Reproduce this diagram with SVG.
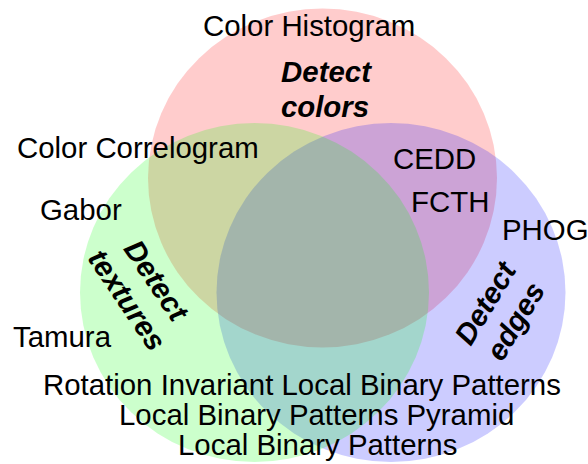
<svg xmlns="http://www.w3.org/2000/svg" width="588" height="464" viewBox="0 0 588 464">
  <style>
    .set { fill-opacity: 0.2; stroke: none; }
    text { font-family: "Liberation Sans", Arial, sans-serif; font-size: 29.4px; fill: #000; }
    .title { font-weight: bold; font-style: italic; text-anchor: middle; }
  </style>
  <rect width="588" height="464" fill="#ffffff"/>
  <g id="colors">
    <ellipse class="set" cx="322.5" cy="178" rx="174.5" ry="169.5" fill="#ff0000"/>
  </g>
  <g id="edges">
    <ellipse class="set" cx="391" cy="292.5" rx="174.5" ry="169.5" fill="#0000ff"/>
  </g>
  <g id="textures">
    <ellipse class="set" cx="254.5" cy="292.5" rx="174.5" ry="169.5" fill="#00ff00"/>
  </g>
  <g id="labels">
    <text x="203" y="36">Color Histogram</text>
    <text class="title"><tspan x="326" y="82">Detect</tspan><tspan x="325" y="117">colors</tspan></text>
    <text x="17" y="158">Color Correlogram</text>
    <text x="40" y="220">Gabor</text>
    <text x="13" y="347">Tamura</text>
    <text x="393" y="169">CEDD</text>
    <text x="411" y="212">FCTH</text>
    <text x="502" y="240">PHOG</text>
    <text class="title" transform="translate(142,290) rotate(56)"><tspan x="0" y="-7">Detect</tspan><tspan x="0" y="28">textures</tspan></text>
    <text class="title" transform="translate(500,312) rotate(-59)"><tspan x="0" y="-7">Detect</tspan><tspan x="0" y="28">edges</tspan></text>
    <text x="43" y="395">Rotation Invariant Local Binary Patterns</text>
    <text x="119" y="425">Local Binary Patterns Pyramid</text>
    <text x="178" y="455">Local Binary Patterns</text>
  </g>
</svg>
